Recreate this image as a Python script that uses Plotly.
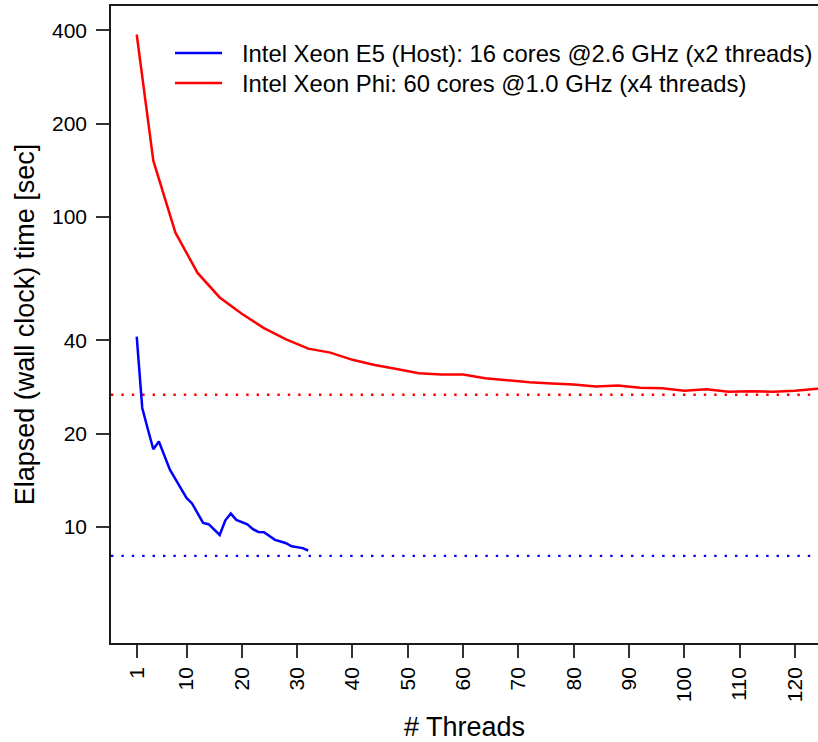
import plotly.graph_objects as go
import math

# ---- data ----
host_threads = list(range(1, 33))
host_time = [41.1, 24.2, 20.7, 17.8, 18.85, 16.9, 15.3, 14.25, 13.3, 12.4,
             11.9, 11.1, 10.3, 10.2, 9.78, 9.42, 10.48, 11.04, 10.53, 10.34,
             10.2, 9.83, 9.63, 9.61, 9.37, 9.08, 8.97, 8.86, 8.66, 8.58,
             8.54, 8.39]

phi_threads = [1, 4, 8, 12, 16, 20, 24, 28, 32, 36, 40, 44, 48, 52, 56, 60,
               64, 68, 72, 76, 80, 84, 88, 92, 96, 100, 104, 108, 112, 116,
               120, 124, 128]
phi_time = [388, 152, 89, 66, 55, 48.7, 43.8, 40.3, 37.6, 36.5, 34.6, 33.3,
            32.3, 31.3, 31.0, 31.0, 30.2, 29.7, 29.3, 29.0, 28.8, 28.4, 28.6,
            28.1, 28.0, 27.5, 27.8, 27.3, 27.4, 27.3, 27.5, 27.9, 28.3]

host_ref = 8.06
phi_ref = 26.7

x_ticks = [1, 10, 20, 30, 40, 50, 60, 70, 80, 90, 100, 110, 120]
y_ticks = [10, 20, 40, 100, 200, 400]

legend_labels = ["Intel Xeon E5 (Host): 16 cores @2.6 GHz (x2 threads)",
                 "Intel Xeon Phi: 60 cores @1.0 GHz (x4 threads)"]

x_range = [-3.65, 124.16]
y_range_vals = [4.22, 479.6]

BLUE = "#0000FF"
RED = "#FF0000"
FONT = "Liberation Sans, Arial, Helvetica, sans-serif"

fig = go.Figure()

# reference dotted lines
fig.add_trace(go.Scatter(x=x_range, y=[phi_ref, phi_ref], mode="lines",
                         line=dict(color=RED, width=2.4, dash="2.4px,8px"),
                         showlegend=False, hoverinfo="skip"))
fig.add_trace(go.Scatter(x=x_range, y=[host_ref, host_ref], mode="lines",
                         line=dict(color=BLUE, width=2.4, dash="2.4px,8px"),
                         showlegend=False, hoverinfo="skip"))

fig.add_trace(go.Scatter(x=host_threads, y=host_time, mode="lines",
                         line=dict(color=BLUE, width=2.5),
                         name=legend_labels[0], showlegend=False))
fig.add_trace(go.Scatter(x=phi_threads, y=phi_time, mode="lines",
                         line=dict(color=RED, width=2.5),
                         name=legend_labels[1], showlegend=False))

# manual legend (pixel-accurate placement)
L, R, T, B = 111, 818, 6, 643
W, H = R - L, B - T
def px(x):
    return (x - L) / W
def py(y):
    return (B - y) / H

for label, color, ypix in [(legend_labels[0], BLUE, 53), (legend_labels[1], RED, 83)]:
    fig.add_shape(type="line", xref="paper", yref="paper",
                  x0=px(175), x1=px(222), y0=py(ypix), y1=py(ypix),
                  line=dict(color=color, width=2.5))
    fig.add_annotation(xref="paper", yref="paper", x=px(240), y=py(ypix),
                       xanchor="left", yanchor="middle", showarrow=False,
                       text=label, font=dict(family=FONT, size=23.8, color="black"))

axis_common = dict(showline=True, linecolor="#1a1a1a", linewidth=1.5,
                   ticks="outside", ticklen=13, tickwidth=1.5, tickcolor="#333333",
                   showgrid=False, zeroline=False,
                   tickfont=dict(family=FONT, size=21, color="black"))

fig.update_xaxes(range=x_range, tickmode="array", tickvals=x_ticks,
                 ticktext=[str(v) for v in x_ticks], tickangle=-90,
                 mirror=True, ticklabelstandoff=1,
                 title=dict(text="# Threads", font=dict(family=FONT, size=27, color="black"),
                            standoff=18),
                 **axis_common)
fig.update_yaxes(type="log", range=[math.log10(y_range_vals[0]), math.log10(y_range_vals[1])],
                 tickmode="array", tickvals=y_ticks, ticktext=[str(v) for v in y_ticks],
                 mirror=False, ticklabelstandoff=5,
                 title=dict(text="Elapsed (wall clock) time [sec]",
                            font=dict(family=FONT, size=27, color="black"), standoff=10),
                 **axis_common)

fig.update_layout(width=818, height=742, autosize=False,
                  margin=dict(l=L, r=818 - R, t=T, b=742 - B, pad=0),
                  paper_bgcolor="white", plot_bgcolor="white",
                  showlegend=False)

fig.write_html("out.html", config={"displayModeBar": False},
               post_script="document.body.style.margin='0px';document.body.style.overflow='hidden';")
